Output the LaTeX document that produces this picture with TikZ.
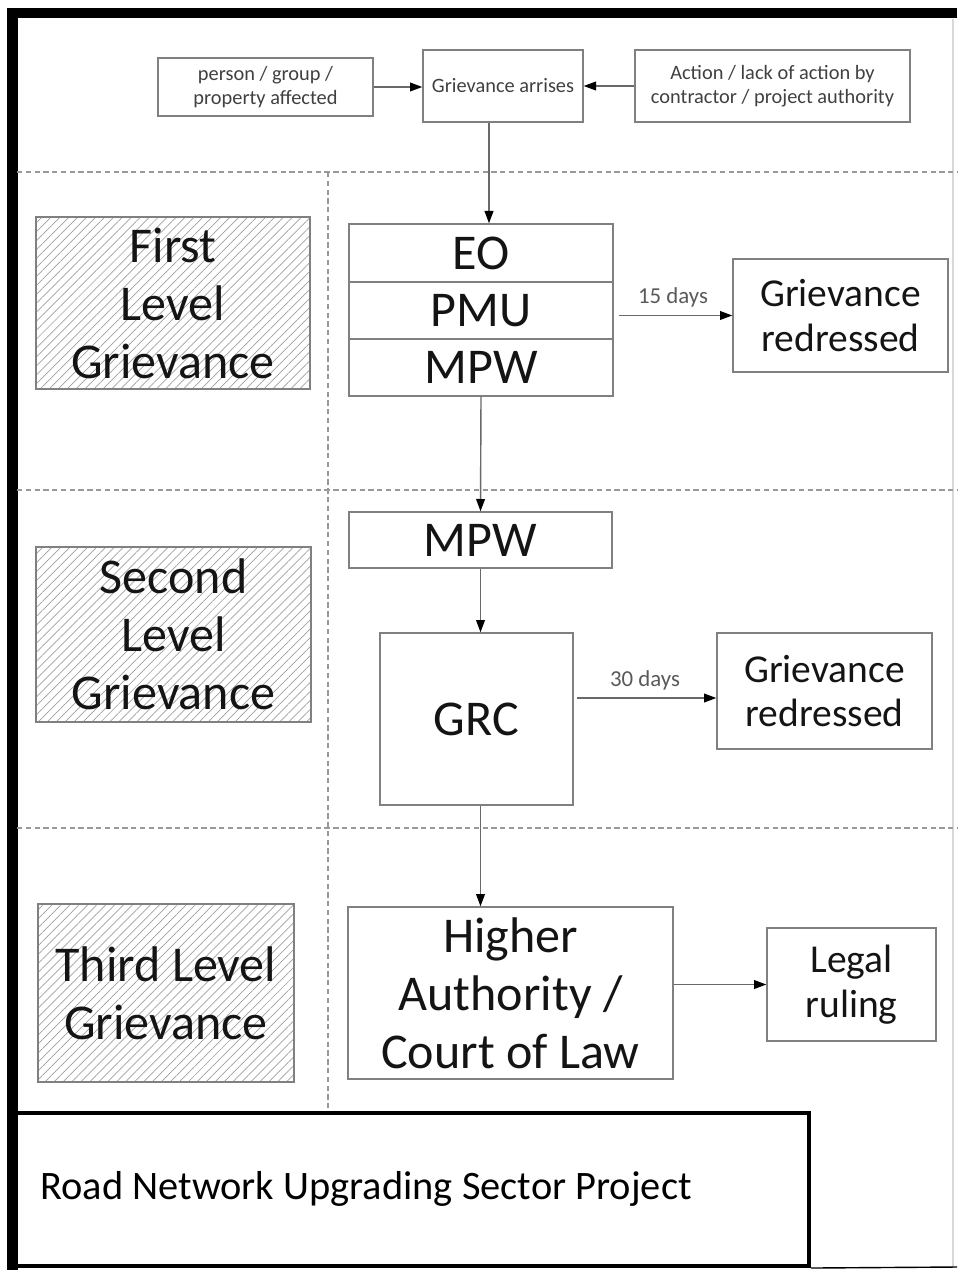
\documentclass[tikz,border=0pt]{standalone}
\usepackage{fontspec}
\setmainfont{Carlito}
\usetikzlibrary{arrows.meta, calc, patterns.meta, positioning}
\definecolor{boxgray}{RGB}{128,128,128}
\definecolor{linegray}{RGB}{105,105,105}
\definecolor{textblack}{RGB}{20,20,20}
\newdimen\unitpx
\unitpx=0.02cm
\tikzset{
  box/.style={draw=boxgray, line width=0.8pt, inner sep=0pt, align=center, text=textblack},
  bigtext/.style={font=\fontsize{28.5}{33}\selectfont},
  midtext/.style={font=\fontsize{22.5}{25.5}\selectfont},
  smalltext/.style={font=\fontsize{11.6}{13.5}\selectfont, text=black!75},
  daytext/.style={font=\fontsize{13}{15}\selectfont, text=black!65},
  levelbox/.style={box, bigtext, pattern={Lines[angle=45, distance=3.6pt, line width=0.4pt]}, pattern color=gray!75},
  flow/.style={-{Triangle[length=7pt, width=5pt, color=black]}, draw=linegray, line width=0.8pt},
  sep/.style={draw=gray!80, dash pattern=on 3pt off 2pt, line width=0.6pt},
}

\begin{document}
\begin{tikzpicture}[x=0.02cm, y=-0.02cm, line join=miter]
    \useasboundingbox (0,0) rectangle (957,1270);

    % outer frame
    \draw[line width=6pt, black] (957,13) -- (12.5,13) -- (12.5,1270);
    \draw[gray!30, line width=0.6pt] (953,19) -- (953,1267);

    % level separators
    \draw[sep] (17,172) -- (957,172);
    \draw[sep] (17,490) -- (957,490);
    \draw[sep] (17,828) -- (957,828);
    \draw[sep] (328,172) -- (328,1113);

    % top row
    \node[box, smalltext, minimum width=215\unitpx, minimum height=58\unitpx] (person) at (265.5,87) {person / group /\\property affected};
    \node[box, smalltext, minimum width=160\unitpx, minimum height=72\unitpx] (arise) at (503,86) {Grievance arrises};
    \node[box, smalltext, minimum width=275\unitpx, minimum height=72\unitpx] (action) at (772.5,86) {Action / lack of action by\\contractor / project authority};

    % level labels
    \node[levelbox, minimum width=274\unitpx, minimum height=172\unitpx] (lvlone) at (173,303) {First\\Level\\Grievance};
    \node[levelbox, minimum width=275\unitpx, minimum height=175\unitpx] (lvltwo) at (173.5,634.5) {Second\\Level\\Grievance};
    \node[levelbox, minimum width=256\unitpx, minimum height=178\unitpx] (lvlthree) at (166,993) {Third Level\\Grievance};

    % first level
    \node[box, bigtext, minimum width=264\unitpx, minimum height=58\unitpx] (eo) at (481,253) {EO};
    \node[box, bigtext, minimum width=264\unitpx, minimum height=57\unitpx] (pmu) at (481,310.5) {PMU};
    \node[box, bigtext, minimum width=264\unitpx, minimum height=57\unitpx] (mpw) at (481,367.5) {MPW};
    \node[box, midtext, minimum width=215\unitpx, minimum height=113\unitpx] (fixone) at (840.5,315.5) {Grievance\\redressed};

    % second level
    \node[box, bigtext, minimum width=263\unitpx, minimum height=56\unitpx] (mpwtwo) at (480.5,540) {MPW};
    \node[box, bigtext, minimum width=193\unitpx, minimum height=172\unitpx] (grc) at (476.5,719) {GRC};
    \node[box, midtext, minimum width=215\unitpx, minimum height=116\unitpx] (fixtwo) at (824.5,691) {Grievance\\redressed};

    % third level
    \node[box, bigtext, minimum width=325\unitpx, minimum height=172\unitpx] (higher) at (510.5,993) {Higher\\Authority /\\Court of Law};
    \node[box, midtext, minimum width=169\unitpx, minimum height=113\unitpx] (legal) at (851.5,984.5) {Legal\\ruling};

    % project box
    \node[draw=black, line width=2.3pt, inner sep=0pt, minimum width=796\unitpx, minimum height=153\unitpx] (road) at (411,1189.5) {};
    \node[inner sep=0pt, anchor=base west, font=\fontsize{23}{27}\selectfont, text=black] (roadlbl) at (40,1199) {Road Network Upgrading Sector Project};
    \coordinate (corner) at (957,1267);
    \draw[line width=0.8pt, black] (road.south east) -- (corner);

    % connectors
    \coordinate (down) at (489,0);
    \coordinate (thirty) at (0,698);
    \draw[flow] (person.east) -- (person.east -| arise.west);
    \draw[flow] (action.west) -- (action.west -| arise.east);
    \draw[flow] (arise.south -| down) -- (eo.north -| down);
    \draw[flow, shorten <=3pt] (pmu.east |- fixone.west) -- (fixone.west) node[midway, above=1pt, daytext] {15 days};
    \draw[flow] (mpw.south) -- (mpwtwo.north);
    \draw[flow] (mpwtwo.south) -- (mpwtwo.south |- grc.north);
    \draw[flow, shorten <=2pt] (grc.east |- thirty) -- (fixtwo.west |- thirty) node[midway, above=1pt, daytext] {30 days};
    \draw[flow] (grc.south -| mpwtwo.south) -- (mpwtwo.south |- higher.north);
    \draw[flow] (higher.east |- legal.west) -- (legal.west);
\end{tikzpicture}
\end{document}
